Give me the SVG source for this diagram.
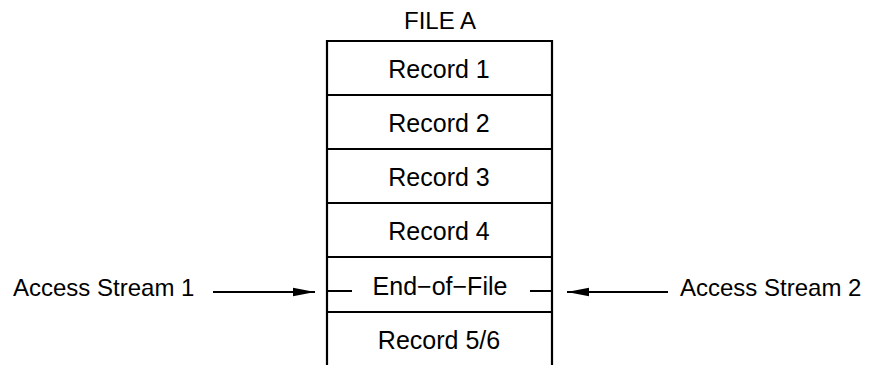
<svg xmlns="http://www.w3.org/2000/svg" width="873" height="365" viewBox="0 0 873 365">
<style>
text{font-family:"Liberation Sans",Arial,sans-serif;font-size:25px;fill:#000}
.c{text-anchor:middle}
.s{font-size:24px}
.ln{stroke:#000;stroke-width:2.2;fill:none}
</style>
<defs>
<marker id="ah" viewBox="0 0 22 10" refX="22" refY="5" markerWidth="22" markerHeight="10" markerUnits="userSpaceOnUse" orient="auto">
<path d="M0,0.8 L22,5 L0,9.2 Z" fill="#000"/>
</marker>
</defs>
<rect width="873" height="365" fill="#fff"/>
<text id="title" class="c s" x="440" y="29">FILE A</text>
<g id="file">
<path class="ln" d="M327,365 V41 H552 V365"/>
</g>
<g id="rec1"><path class="ln" d="M327,95 H552"/><text class="c" x="439" y="78">Record 1</text></g>
<g id="rec2"><path class="ln" d="M327,149 H552"/><text class="c" x="439" y="132">Record 2</text></g>
<g id="rec3"><path class="ln" d="M327,203 H552"/><text class="c" x="439" y="186">Record 3</text></g>
<g id="rec4"><path class="ln" d="M327,257 H552"/><text class="c" x="439" y="240">Record 4</text></g>
<g id="eof"><path class="ln" d="M327,312 H552 M327,291 H352 M530,291 H552"/><text class="c" x="440" y="295">End−of−File</text></g>
<g id="rec56"><text class="c" x="439" y="349">Record 5/6</text></g>
<g id="as1"><text class="s" x="13" y="296">Access Stream 1</text></g>
<g id="as2"><text class="s" x="680" y="296">Access Stream 2</text></g>
<g id="connectors">
<path class="ln" d="M213,292 H315" marker-end="url(#ah)"/>
<path class="ln" d="M668,292 H567" marker-end="url(#ah)"/>
</g>
</svg>
